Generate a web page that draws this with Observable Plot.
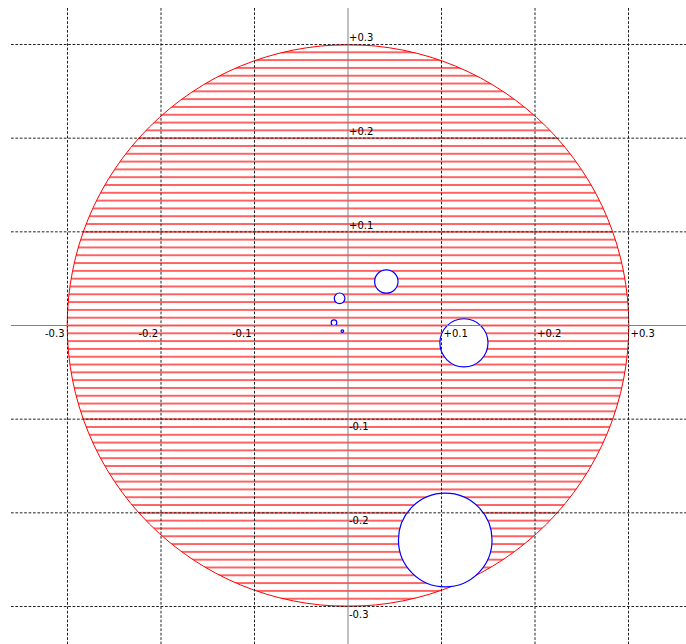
<!DOCTYPE html>
<html>
<head>
<meta charset="utf-8">
<script src="https://cdn.jsdelivr.net/npm/d3@7"></script>
<script src="https://cdn.jsdelivr.net/npm/@observablehq/plot@0.6"></script>
<style>
  html, body { margin: 0; padding: 0; background: #fff; }
  svg { display: block; }
</style>
</head>
<body>
<div id="chart"></div>
<script>
// ---- data ----
const gridTicks = [-0.3, -0.2, -0.1, 0.1, 0.2, 0.3];
const xTickLabels = ["-0.3", "-0.2", "-0.1", "+0.1", "+0.2", "+0.3"];
const yTickLabels = ["-0.3", "-0.2", "-0.1", "+0.1", "+0.2", "+0.3"];

const boundaryR = 0.3;          // red hatched region radius (centred at origin)

const circleX = [0.041, -0.009, -0.015, -0.006, 0.124, 0.104];
const circleY = [0.047, 0.029, 0.003, -0.006, -0.0185, -0.229];
const circleR = [0.0125, 0.0057, 0.003, 0.0014, 0.0257, 0.050];

const circles = circleX.map((x, i) => ({x, y: circleY[i], r: circleR[i]}));
const xLabels = gridTicks.map((v, i) => ({v, label: xTickLabels[i]}));
const yLabels = gridTicks.map((v, i) => ({v, label: yTickLabels[i]}));

const W = 686, H = 644;
const pxPerUnit = 936;

const font = "DejaVu Sans, Verdana, sans-serif";
const gridStyle = {stroke: "#222", strokeWidth: 1, strokeDasharray: "2.7,1.7"};

const svg = Plot.plot({
  width: W,
  height: H,
  marginLeft: 11,
  marginRight: 0,
  marginTop: 8,
  marginBottom: 0,
  style: {background: "#fff", fontFamily: font, fontSize: "10px", overflow: "visible"},
  x: {domain: [-0.3, 0.3], range: [67, 628], axis: null},
  y: {domain: [-0.3, 0.3], range: [606, 44], axis: null},
  r: {type: "linear", domain: [0, 1], range: [0, pxPerUnit]},
  marks: [
    Plot.dot([{x: 0, y: 0, r: boundaryR}], {x: "x", y: "y", r: "r", fill: "url(#hatch)", stroke: "#ff0000", strokeWidth: 1}),
    Plot.dot(circles, {x: "x", y: "y", r: "r", fill: "#fff", stroke: "#0000ff", strokeWidth: 1.2}),
    Plot.ruleX(gridTicks, {...gridStyle}),
    Plot.ruleY(gridTicks, {...gridStyle}),
    Plot.ruleX([0], {stroke: "#808080", strokeWidth: 1}),
    Plot.ruleY([0], {stroke: "#808080", strokeWidth: 1}),
    Plot.text(xLabels.filter(d => d.v < 0), {x: "v", y: 0, text: "label", textAnchor: "end", dx: -3, dy: 8.5, fill: "#000"}),
    Plot.text(xLabels.filter(d => d.v > 0), {x: "v", y: 0, text: "label", textAnchor: "start", dx: 2, dy: 8.5, fill: "#000"}),
    Plot.text(yLabels.filter(d => d.v > 0), {x: 0, y: "v", text: "label", textAnchor: "start", dx: 1, dy: -6.5, fill: "#000"}),
    Plot.text(yLabels.filter(d => d.v < 0), {x: 0, y: "v", text: "label", textAnchor: "start", dx: 1, dy: 8, fill: "#000"})
  ]
});

// horizontal hatch pattern, aligned to the origin line
const hatchStep = 281 / 36;
const defs = d3.select(svg).insert("defs", ":first-child");
const pat = defs.append("pattern")
  .attr("id", "hatch")
  .attr("patternUnits", "userSpaceOnUse")
  .attr("x", 0)
  .attr("y", 325 - hatchStep / 2)
  .attr("width", W)
  .attr("height", hatchStep);
pat.append("rect").attr("width", W).attr("height", hatchStep).attr("fill", "#fff");
pat.append("rect")
  .attr("x", 0).attr("width", W)
  .attr("y", hatchStep / 2 - 0.6).attr("height", 1.2)
  .attr("fill", "#ff0000");

document.getElementById("chart").appendChild(svg);
</script>
</body>
</html>
